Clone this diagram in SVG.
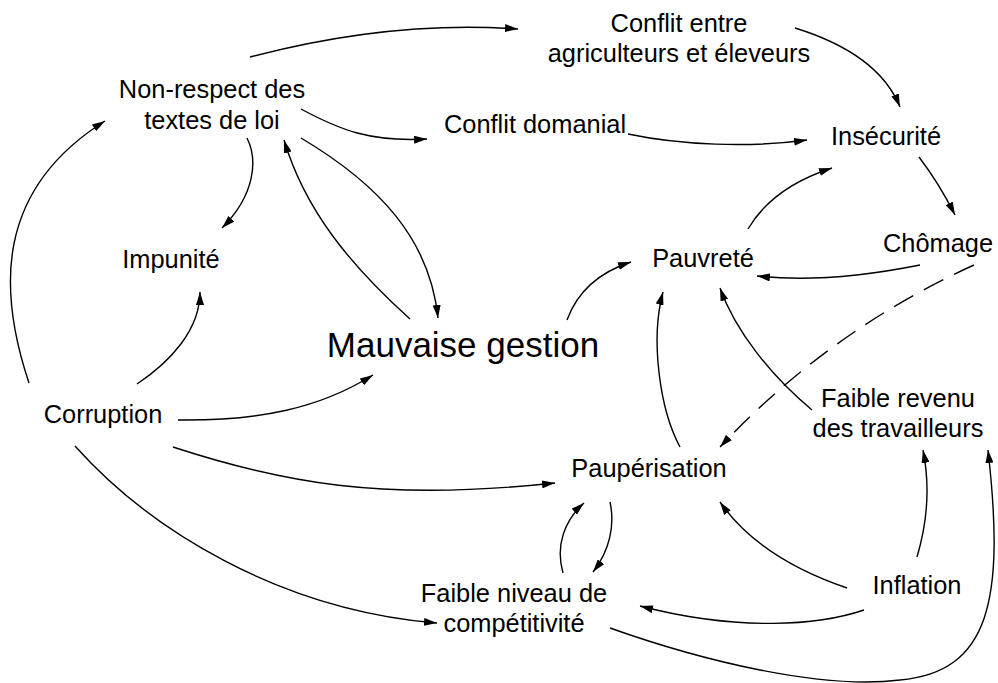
<svg xmlns="http://www.w3.org/2000/svg" width="998" height="683" viewBox="0 0 998 683">
<style>
text{font-family:"Liberation Sans",Arial,sans-serif;font-size:25.4px;fill:#000;text-anchor:middle}
.big{font-size:35px}
#edges path{fill:none;stroke:#000;stroke-width:1.4;marker-end:url(#a)}
#edges path.dash{stroke-dasharray:22 12}
</style>
<defs>
<marker id="a" viewBox="0 0 13 8" refX="13" refY="4" markerWidth="13" markerHeight="8" markerUnits="userSpaceOnUse" orient="auto"><path d="M0,0 L13,4 L0,8 z" fill="#000"/></marker>
</defs>
<rect width="998" height="683" fill="#fff"/>
<g id="edges">
<path d="M250,57 C330,36 420,22 518,29"/>
<path d="M301,109 C340,130 370,142 427,139"/>
<path d="M247,138 C258,160 255,195 222,228"/>
<path d="M410,319 C350,265 305,210 284,140"/>
<path d="M301,138 C380,185 430,240 438,318"/>
<path d="M628,134 C680,145 750,148 807,140"/>
<path d="M795,28 C850,45 885,70 900,107"/>
<path d="M919,157 C935,178 945,195 955,215"/>
<path d="M748,229 C765,200 795,180 832,168"/>
<path d="M920,265 C870,275 810,282 757,276"/>
<path class="dash" d="M974,265 Q830,330 720,447"/>
<path d="M567,320 C578,290 600,272 631,262"/>
<path d="M680,447 C660,410 650,340 663,292"/>
<path d="M812,410 C770,375 735,330 720,288"/>
<path d="M917,557 C928,520 930,485 923,450"/>
<path d="M610,628 C700,660 820,690 900,680 C990,672 1005,600 988,450"/>
<path d="M847,588 C800,572 750,545 720,502"/>
<path d="M864,610 C820,625 740,632 640,606"/>
<path d="M610,502 C615,525 610,550 593,572"/>
<path d="M563,573 C555,545 565,520 584,503"/>
<path d="M29,383 C-2,290 -5,190 105,121"/>
<path d="M137,384 C170,362 200,330 200,292"/>
<path d="M178,420 C260,421 320,408 373,375"/>
<path d="M173,447 C280,482 380,502 555,483"/>
<path d="M75,446 C150,530 280,610 437,623"/>
</g>
<g id="nonrespect"><text x="212" y="98">Non-respect des</text><text x="212" y="129">textes de loi</text></g>
<g id="conflitentre"><text x="679" y="32">Conflit entre</text><text x="679" y="62">agriculteurs et éleveurs</text></g>
<g id="conflitdomanial"><text x="535" y="133">Conflit domanial</text></g>
<g id="insecurite"><text x="886" y="145">Insécurité</text></g>
<g id="impunite"><text x="171" y="268">Impunité</text></g>
<g id="chomage"><text x="938" y="252">Chômage</text></g>
<g id="pauvrete"><text x="703" y="267">Pauvreté</text></g>
<g id="mauvaise"><text class="big" x="463" y="357">Mauvaise gestion</text></g>
<g id="corruption"><text x="103" y="423">Corruption</text></g>
<g id="faiblerevenu"><text x="898" y="407">Faible revenu</text><text x="898" y="437">des travailleurs</text></g>
<g id="pauperisation"><text x="649" y="477">Paupérisation</text></g>
<g id="inflation"><text x="917" y="594">Inflation</text></g>
<g id="faibleniveau"><text x="514" y="602">Faible niveau de</text><text x="514" y="632">compétitivité</text></g>
</svg>
